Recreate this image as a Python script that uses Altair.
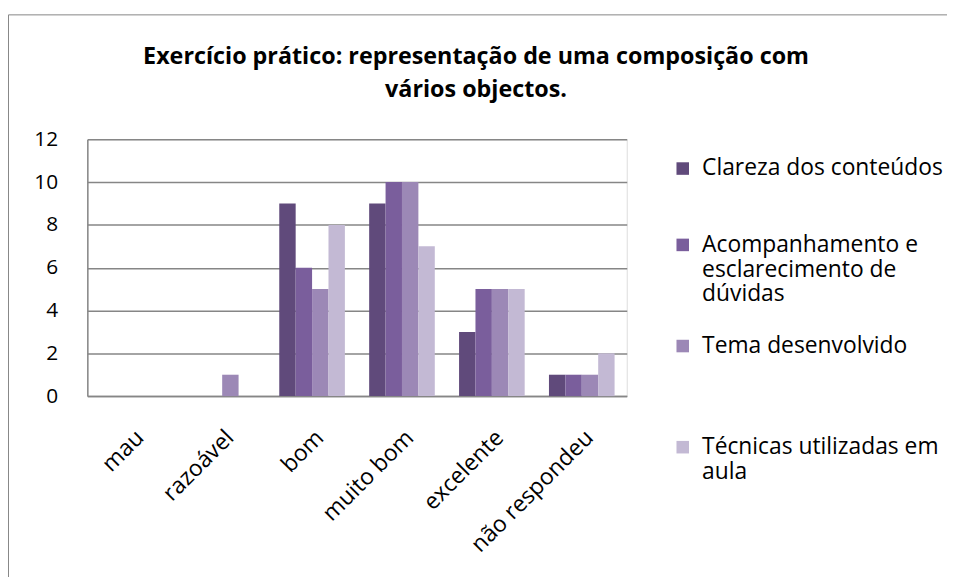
import altair as alt
import pandas as pd

categories = ["mau", "razoável", "bom", "muito bom", "excelente", "não respondeu"]
series = [
    "Clareza dos conteúdos",
    "Acompanhamento e esclarecimento de dúvidas",
    "Tema desenvolvido",
    "Técnicas utilizadas em aula",
]
clareza = [0, 0, 9, 9, 3, 1]
acompanhamento = [0, 0, 6, 10, 5, 1]
tema = [0, 1, 5, 10, 5, 1]
tecnicas = [0, 0, 8, 7, 5, 2]
colors = ["#604A7B", "#7A5E9C", "#9C88B6", "#C3B9D4"]
y_ticks = [0, 2, 4, 6, 8, 10, 12]

rows = []
for s, vals in zip(series, [clareza, acompanhamento, tema, tecnicas]):
    for c, v in zip(categories, vals):
        rows.append({"categoria": c, "serie": s, "valor": v})
df = pd.DataFrame(rows)

FONT = "Open Sans"

label_expr = (
    "datum.label == 'Clareza dos conteúdos' ? ['Clareza dos conteúdos', '', ''] : "
    "datum.label == 'Acompanhamento e esclarecimento de dúvidas' ? "
    "['Acompanhamento e', 'esclarecimento de', 'dúvidas', ''] : "
    "datum.label == 'Tema desenvolvido' ? ['Tema desenvolvido', '', '', ''] : "
    "datum.label == 'Técnicas utilizadas em aula' ? "
    "['Técnicas utilizadas em', 'aula'] : datum.label"
)

bars = alt.Chart(df).mark_bar().encode(
    x=alt.X(
        "categoria:N",
        sort=categories,
        scale=alt.Scale(paddingInner=0.27, paddingOuter=0.135),
        axis=alt.Axis(
            title=None,
            labelAngle=-45,
            labelAlign="right",
            labelBaseline="middle",
            labelFontSize=23,
            labelFont=FONT,
            labelColor="#000000",
            labelPadding=38,
            labelOffset=8,
            ticks=False,
            domainColor="#868686",
            domainWidth=1.5,
            grid=False,
        ),
    ),
    xOffset=alt.XOffset("serie:N", sort=series, scale=alt.Scale(paddingInner=0, paddingOuter=0)),
    y=alt.Y(
        "valor:Q",
        scale=alt.Scale(domain=[0, 12], nice=False),
        axis=alt.Axis(
            title=None,
            values=y_ticks,
            labelFontSize=21,
            labelFont=FONT,
            labelColor="#000000",
            labelPadding=30,
            ticks=False,
            domainColor="#868686",
            domainWidth=1.5,
            gridColor="#868686",
            gridWidth=1.5,
        ),
    ),
    color=alt.Color(
        "serie:N",
        sort=series,
        scale=alt.Scale(domain=series, range=colors),
        legend=alt.Legend(
            title=None,
            orient="none",
            legendX=589,
            legendY=18,
            symbolType="square",
            symbolSize=160,
            symbolStrokeWidth=0,
            labelFontSize=23,
            labelFont=FONT,
            labelColor="#000000",
            labelLimit=400,
            labelOffset=8,
            labelExpr=label_expr,
            rowPadding=3,
        ),
    ),
)

border_df = pd.DataFrame({"b": [0]})
border = alt.Chart(border_df).mark_rect(
    fill="transparent", stroke="#868686", strokeWidth=1
).encode(
    x=alt.value(-79.5),
    y=alt.value(-125.5),
    x2=alt.value(1000),
    y2=alt.value(700),
)

chart = alt.layer(border, bars).properties(
    width=544,
    height=259,
    title=alt.TitleParams(
        text=["Exercício prático: representação de uma composição com", "vários objectos."],
        font=FONT,
        fontSize=23.5,
        fontWeight="bold",
        color="#000000",
        anchor="middle",
        dx=120,
        dy=88,
        offset=0,
        lineHeight=33,
    ),
    autosize=alt.AutoSizeParams(type="none"),
    padding={"left": 80, "top": 130, "right": 323, "bottom": 180},
).configure_view(stroke=None).configure(background="white")

chart.save("out.html", embed_options={"renderer": "svg", "actions": False})
